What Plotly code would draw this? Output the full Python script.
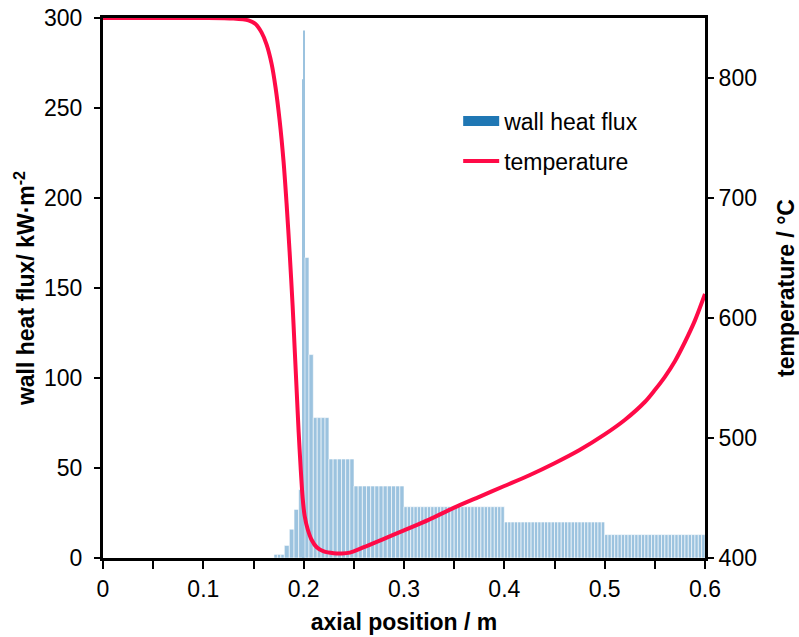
import plotly.graph_objects as go

# ---- wall heat flux (bars) ----
seg_start = [0.1704, 0.1807, 0.1857, 0.1904, 0.1950, 0.1993, 0.2003, 0.2013, 0.2053, 0.2096, 0.2252, 0.2502, 0.3000, 0.4000, 0.5000]
seg_end   = [0.1807, 0.1857, 0.1904, 0.1950, 0.1993, 0.2003, 0.2013, 0.2053, 0.2096, 0.2252, 0.2502, 0.3000, 0.4000, 0.5000, 0.6000]
seg_value = [2, 7, 16, 27, 38, 266, 293, 167, 113, 78, 55, 40, 28.5, 20, 13]
seg_bars  = [3, 1, 1, 1, 1, 1, 1, 1, 1, 4, 6, 12, 30, 30, 30]

# ---- temperature (line) ----
temp_x = [0.000, 0.100, 0.130, 0.145, 0.152, 0.158, 0.163, 0.168, 0.172, 0.176, 0.180,
          0.183, 0.186, 0.189, 0.191, 0.193, 0.195, 0.197, 0.199, 0.201, 0.204, 0.208,
          0.213, 0.220, 0.230, 0.238, 0.246, 0.260, 0.280, 0.300, 0.325, 0.350, 0.375,
          0.400, 0.425, 0.450, 0.475, 0.500, 0.520, 0.540, 0.550, 0.560, 0.570, 0.580, 0.590, 0.600]
temp_T = [850, 850, 849.5, 848, 845, 838, 828, 812, 792, 765, 730,
          695, 655, 610, 575, 540, 505, 475, 450, 435, 424, 415,
          409, 405.5, 404, 403.8, 404.5, 409, 416, 423, 432, 442, 451,
          460, 469, 479, 490, 503, 515, 530, 540, 551, 564, 580, 598, 620]

x_ticks = [0, 0.1, 0.2, 0.3, 0.4, 0.5, 0.6]
x_labels = ["0", "0.1", "0.2", "0.3", "0.4", "0.5", "0.6"]

bar_x, bar_w, bar_y = [], [], []
for s, e, v, n in zip(seg_start, seg_end, seg_value, seg_bars):
    w = (e - s) / n
    for i in range(n):
        bar_x.append(s + w * (i + 0.5))
        bar_w.append(w)
        bar_y.append(v)
bar_edge = [0.6 if w > 0.002 else 0 for w in bar_w]

FONT = "Liberation Sans, Arial, sans-serif"

fig = go.Figure()
fig.add_trace(go.Bar(x=bar_x, y=bar_y, width=bar_w,
                     marker=dict(color="#9cc3df", line=dict(color="white", width=bar_edge)),
                     showlegend=False, yaxis="y", hoverinfo="skip"))
fig.add_trace(go.Scatter(x=[None], y=[None], mode="lines",
                         line=dict(color="#1f77b4", width=10),
                         name="wall heat flux", legendgroup="a"))
fig.add_trace(go.Scatter(x=temp_x, y=temp_T, mode="lines",
                         line=dict(color="#ff0a47", width=4, shape="spline", smoothing=0.8),
                         name="temperature", yaxis="y2", legendgroup="b"))

fig.update_layout(
    width=799, height=637,
    margin=dict(l=103, r=94, t=18, b=79),
    plot_bgcolor="white", paper_bgcolor="white",
    font=dict(family=FONT, size=23, color="black"),
    barmode="overlay",
    xaxis=dict(range=[0, 0.6], tickvals=x_ticks, ticktext=x_labels, automargin=False,
               showline=True, linecolor="black", linewidth=3, mirror=True,
               ticks="outside", ticklen=8, tickwidth=2, tickcolor="black",
               minor=dict(dtick=0.05, tick0=0, ticks="outside", ticklen=8, tickwidth=2, tickcolor="black"),
               showgrid=False, zeroline=False, tickfont=dict(size=23),
               title=dict(text="<b>axial position / m</b>", standoff=14, font=dict(size=23))),
    yaxis=dict(range=[0, 300], dtick=50, tick0=0, automargin=False,
               showline=True, linecolor="black", linewidth=3,
               ticks="outside", ticklen=6, tickwidth=2, tickcolor="black",
               showgrid=False, zeroline=False, tickfont=dict(size=23), ticklabelstandoff=7,
               title=dict(text="<b>wall heat flux/ kW·m<sup>-2</sup></b>", standoff=3, font=dict(size=23))),
    yaxis2=dict(range=[400, 850], dtick=100, tick0=400, overlaying="y", side="right", automargin=False,
                showline=True, linecolor="black", linewidth=3,
                ticks="outside", ticklen=6, tickwidth=2, tickcolor="black",
                showgrid=False, zeroline=False, tickfont=dict(size=23),
                title=dict(text="<b>temperature / °C</b>", standoff=24, font=dict(size=23))),
    legend=dict(x=0.59, y=0.849, xanchor="left", yanchor="top",
                bgcolor="rgba(0,0,0,0)", font=dict(size=23),
                itemwidth=36, tracegroupgap=7, traceorder="grouped"),
)

fig.write_html("out.html")
